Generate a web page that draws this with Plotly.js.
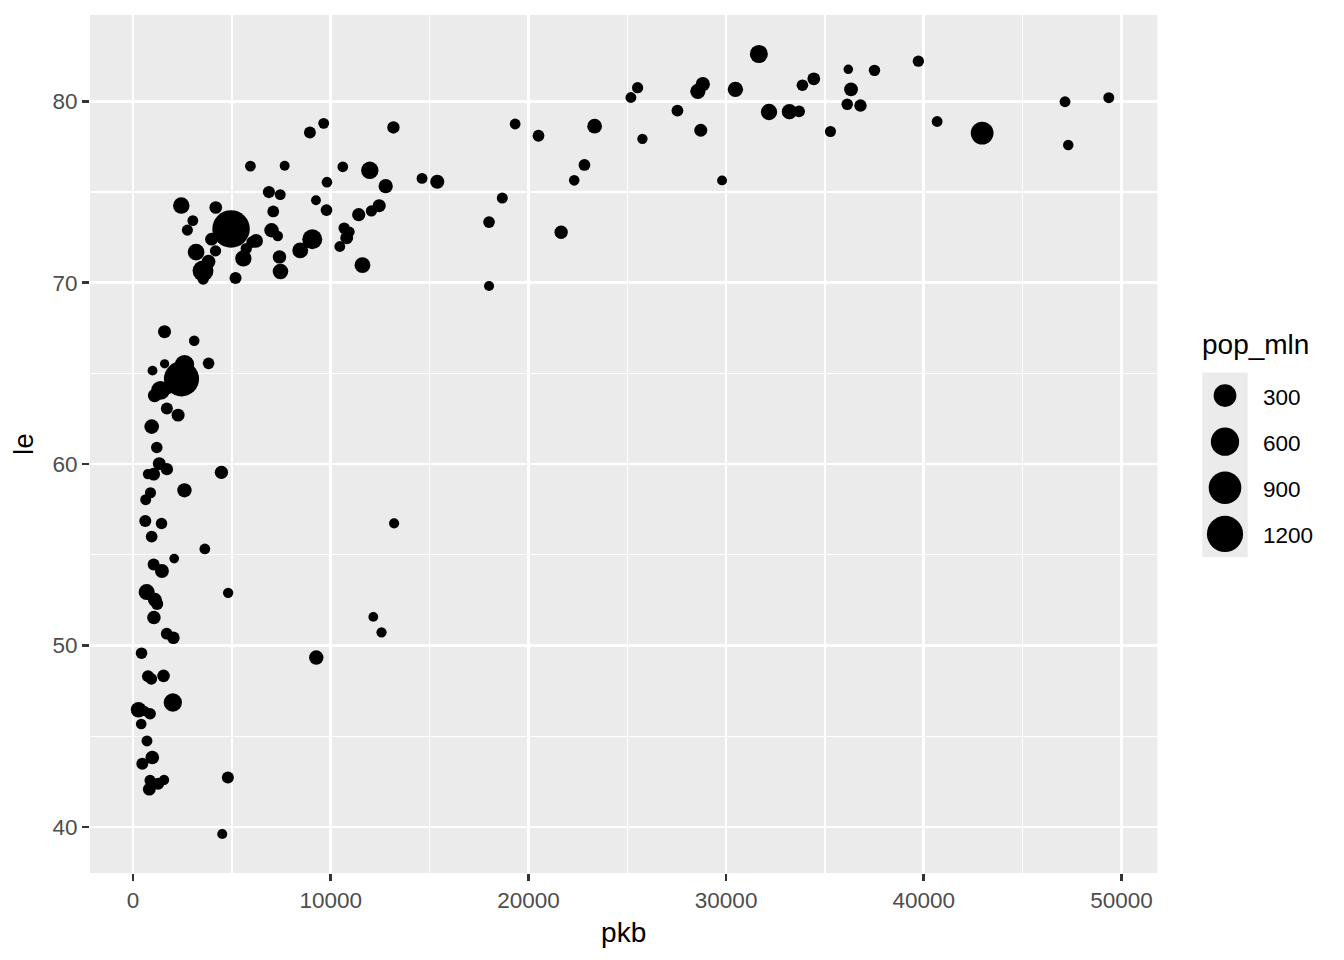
<!DOCTYPE html>
<html>
<head>
<meta charset="utf-8">
<script src="https://cdn.plot.ly/plotly-3.0.1.min.js"></script>
<style>
html,body{margin:0;padding:0;background:#fff;}
#chart{width:1344px;height:960px;}
</style>
</head>
<body>
<div id="chart"></div>
<script>
// gapminder 2007: GDP per capita (pkb), life expectancy (le), population in millions (pop_mln)
const pkb = [
 6223.367, 4797.231, 1441.285, 12569.85, 1217.033, 430.071, 2042.095, 706.017, 1704.064, 986.148,
 277.552, 3632.558, 1544.750, 2082.482, 5581.181, 12154.09, 641.370, 690.806, 13206.48, 752.750,
 1327.609, 942.654, 579.232, 1463.249, 1569.331, 414.507, 12057.50, 1044.770, 759.350, 1042.582,
 1803.151, 10956.99, 3820.175, 823.686, 4811.060, 619.677, 2013.977, 7670.123, 863.089, 1598.435,
 1712.472, 862.541, 926.141, 9269.658, 2602.395, 4513.481, 1107.482, 882.970, 7092.923, 1056.380,
 1271.212, 469.709,
 12779.38, 3822.137, 9065.801, 36319.24, 13171.64, 7006.580, 9645.061, 8948.103, 6025.375, 6873.262,
 5728.354, 5186.050, 1201.637, 3548.331, 7320.880, 11977.57, 2749.321, 9809.186, 4172.838, 7408.906,
 19328.71, 18008.51, 42951.65, 10611.46, 11415.81,
 974.580, 29796.05, 1391.254, 1713.779, 4959.115, 39724.98, 2452.210, 3540.652, 11605.71, 4471.062,
 25523.28, 31656.07, 4519.461, 1593.065, 23348.14, 47306.99, 10461.06, 12451.66, 3095.772, 944.000,
 1091.360, 22316.19, 2605.948, 3190.481, 21654.83, 47143.18, 3970.095, 4184.548, 28718.28, 7458.396,
 2441.577, 3025.350, 2280.770,
 5937.030, 36126.49, 33692.61, 7446.299, 10680.79, 14619.22, 22833.31, 35278.42, 33207.08, 30470.02,
 32170.37, 27538.41, 18008.94, 36180.79, 40675.00, 28569.72, 9253.896, 36797.93, 49357.19, 15389.92,
 20509.65, 10808.48, 9786.535, 18678.31, 25768.26, 28821.06, 33859.75, 37506.42, 8458.276, 33203.26,
 34435.37, 25185.01
];
const le = [
 72.301, 42.731, 56.728, 50.728, 52.295, 49.580, 50.430, 44.741, 50.651, 65.152,
 46.462, 55.322, 48.328, 54.791, 71.338, 51.579, 58.040, 52.947, 56.735, 59.448,
 60.022, 56.007, 46.388, 54.110, 42.592, 45.678, 73.952, 59.443, 48.303, 54.467,
 64.164, 72.801, 71.164, 42.082, 52.906, 56.867, 46.859, 76.442, 46.242, 65.528,
 63.062, 42.568, 48.159, 49.339, 58.556, 39.613, 52.517, 58.420, 73.923, 51.542,
 42.384, 43.487,
 75.320, 65.554, 72.390, 80.653, 78.553, 72.889, 78.782, 78.273, 72.235, 74.994,
 71.878, 70.259, 60.916, 70.198, 72.567, 76.195, 72.899, 75.537, 71.752, 71.421,
 78.746, 69.819, 78.242, 76.384, 73.747,
 43.828, 75.635, 64.062, 59.723, 72.961, 82.208, 64.698, 70.650, 70.964, 59.545,
 80.745, 82.603, 72.535, 67.297, 78.623, 77.588, 71.993, 74.241, 66.803, 62.069,
 63.785, 75.640, 65.483, 71.688, 72.777, 79.972, 72.396, 74.143, 78.400, 70.616,
 74.249, 73.422, 62.698,
 76.423, 79.829, 79.441, 74.852, 73.005, 75.748, 76.486, 78.332, 79.313, 80.657,
 79.406, 79.483, 73.338, 81.757, 78.885, 80.546, 74.543, 79.762, 80.196, 75.563,
 78.098, 72.476, 74.002, 74.663, 77.926, 80.941, 80.884, 81.701, 71.777, 79.425,
 81.235, 80.204
];
const pop_mln = [
 33.333, 12.420, 8.078, 1.639, 14.326, 8.391, 17.696, 4.369, 10.239, 0.711,
 64.607, 3.801, 18.013, 0.496, 80.265, 0.551, 4.907, 76.512, 1.455, 1.688,
 22.873, 9.948, 1.472, 35.610, 2.013, 3.194, 6.037, 19.168, 13.327, 12.032,
 3.270, 1.251, 33.757, 19.952, 2.055, 12.895, 135.031, 0.798, 8.861, 0.200,
 12.267, 6.145, 9.119, 43.998, 42.293, 1.133, 38.140, 5.702, 10.276, 29.170,
 11.746, 12.311,
 40.302, 9.119, 190.011, 33.390, 16.285, 44.228, 4.134, 11.417, 9.320, 13.756,
 6.940, 12.573, 8.503, 7.484, 2.780, 108.701, 5.675, 3.242, 6.667, 28.675,
 3.942, 1.057, 301.140, 3.447, 26.085,
 31.890, 0.709, 150.448, 14.132, 1318.683, 6.980, 1110.396, 223.547, 69.454, 27.500,
 6.427, 127.468, 6.053, 23.302, 49.045, 2.506, 3.921, 24.821, 2.874, 47.762,
 28.902, 3.205, 169.271, 91.077, 27.601, 4.553, 20.378, 19.315, 23.174, 65.068,
 85.262, 4.018, 22.212,
 3.601, 8.200, 10.392, 4.552, 7.323, 4.493, 10.229, 5.468, 5.238, 61.084,
 82.401, 10.706, 9.956, 0.302, 4.109, 58.148, 0.685, 16.571, 4.628, 38.518,
 10.643, 22.276, 10.150, 5.448, 2.009, 40.448, 9.031, 7.555, 71.159, 60.776,
 20.434, 4.116
];
const legendBreaks = [300, 600, 900, 1200];
const legendTitle = "pop_mln";

// size scale (area-like, as in ggplot2 scale_size)
const popMin = Math.min(...pop_mln), popMax = Math.max(...pop_mln);
function sizeOf(p){ return 9.3 + 28.2*Math.sqrt(Math.max(0,(p-popMin))/(popMax-popMin)); }

const FONT = "Liberation Sans, Arial, Helvetica, sans-serif";
const W = 1344, H = 960, ML = 90, MR = 0, MT = 15, MB = 87;
const PW = W-ML-MR, PH = H-MT-MB;
const px = X => (X-ML)/PW;
const py = Y => (H-MB-Y)/PH;

const traces = [
 {
  type: 'scatter', mode: 'markers', x: pkb, y: le,
  marker: {color: '#000000', size: pop_mln.map(sizeOf), sizemode: 'diameter', line: {width: 0}, opacity: 1},
  xaxis: 'x', yaxis: 'y', showlegend: false, hoverinfo: 'x+y'
 },
 {
  type: 'scatter', mode: 'markers',
  x: legendBreaks.map(() => 0.5), y: legendBreaks.map((v,i) => i),
  marker: {color: '#000000', size: legendBreaks.map(sizeOf), sizemode: 'diameter', line: {width: 0}, opacity: 1},
  xaxis: 'x2', yaxis: 'y2', showlegend: false, hoverinfo: 'skip', cliponaxis: false
 }
];

const gridCommon = {
  showgrid: true, gridcolor: '#FFFFFF', gridwidth: 2.7,
  zeroline: false, showline: false,
  ticks: 'outside', ticklen: 7, tickwidth: 2.7, tickcolor: '#333333',
  tickfont: {family: FONT, size: 22.5, color: '#4D4D4D'}
};

const layout = {
  width: W, height: H,
  margin: {l: ML, r: MR, t: MT, b: MB, pad: 0},
  paper_bgcolor: '#FFFFFF', plot_bgcolor: '#EBEBEB',
  font: {family: FONT, color: '#000000'},
  showlegend: false,
  xaxis: Object.assign({}, gridCommon, {
    domain: [0, px(1157.3)],
    range: [-2176.4, 51811.2],
    tick0: 0, dtick: 10000, tickformat: 'd',
    minor: {dtick: 5000, tick0: 0, showgrid: true, gridcolor: '#FFFFFF', gridwidth: 1.35, ticks: ''},
    title: {text: 'pkb', font: {family: FONT, size: 28, color: '#000000'}, standoff: 10}
  }),
  yaxis: Object.assign({}, gridCommon, {
    domain: [0, 1],
    range: [37.4635, 84.7525],
    tick0: 0, dtick: 10,
    minor: {dtick: 5, tick0: 0, showgrid: true, gridcolor: '#FFFFFF', gridwidth: 1.35, ticks: ''},
    title: {text: 'le', font: {family: FONT, size: 28, color: '#000000'}, standoff: 10}
  }),
  xaxis2: {domain: [px(1202.3), px(1247.7)], range: [0, 1], anchor: 'y2',
    showgrid: false, zeroline: false, showticklabels: false, ticks: '', showline: false, fixedrange: true},
  yaxis2: {domain: [py(557), py(372.5)], range: [3.5, -0.5], anchor: 'x2',
    showgrid: false, zeroline: false, showticklabels: false, ticks: '', showline: false, fixedrange: true},
  annotations: [
    {text: legendTitle, xref: 'paper', yref: 'paper', x: px(1199.5), y: py(345), xanchor: 'left', yanchor: 'middle',
     showarrow: false, font: {family: FONT, size: 28, color: '#000000'}}
  ].concat(legendBreaks.map((v,i) => ({
     text: String(v), xref: 'paper', yref: 'y2', x: px(1260.5), y: i, yshift: -1.5, xanchor: 'left', yanchor: 'middle',
     showarrow: false, font: {family: FONT, size: 22.5, color: '#000000'}
  })))
};

Plotly.newPlot('chart', traces, layout, {displayModeBar: false, staticPlot: true});
</script>
</body>
</html>
